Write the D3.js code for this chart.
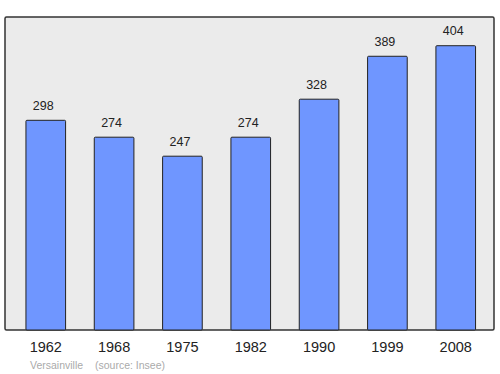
<!DOCTYPE html>
<html>
<head>
<meta charset="utf-8">
<script src="https://cdn.jsdelivr.net/npm/d3@7"></script>
<style>
  body { margin: 0; background: #fff; }
  svg { display: block; font-family: "Liberation Sans", Arial, sans-serif; }
</style>
</head>
<body>
<svg id="chart" width="500" height="374"></svg>
<script>
// Data
const years = ["1962", "1968", "1975", "1982", "1990", "1999", "2008"];
const population = [298, 274, 247, 274, 328, 389, 404];
const townName = "Versainville";
const sourceText = "(source: Insee)";

const svg = d3.select("#chart");

// frame of the plot area
const frame = { left: 5, top: 17, right: 494, bottom: 330 };

// Scales
const xScale = d3.scaleBand()
    .domain(years)
    .range([11.6, 489.9])
    .paddingInner(0.42)
    .paddingOuter(0.21);

const yScale = d3.scaleLinear()
    .domain([0, 444.8])
    .range([frame.bottom, frame.top]);

// background box
svg.append("rect")
    .attr("x", frame.left)
    .attr("y", frame.top)
    .attr("width", frame.right - frame.left)
    .attr("height", frame.bottom - frame.top)
    .attr("rx", 1.5)
    .attr("fill", "#ebebeb")
    .attr("stroke", "#333")
    .attr("stroke-width", 1.5);

// bars
svg.append("g")
    .selectAll("rect")
    .data(population)
    .enter()
    .append("rect")
    .attr("x", (d, i) => xScale(years[i]))
    .attr("y", d => yScale(d))
    .attr("width", xScale.bandwidth())
    .attr("height", d => yScale(0) - yScale(d))
    .attr("rx", 1)
    .attr("fill", "#6f96ff")
    .attr("stroke", "#222")
    .attr("stroke-width", 1);

// value labels (sit a bit left of the bar centre, like the original)
svg.append("g")
    .selectAll("text")
    .data(population)
    .enter()
    .append("text")
    .attr("x", (d, i) => xScale(years[i]) + xScale.bandwidth() / 2 - 2.5)
    .attr("y", d => yScale(d) - 10.5)
    .attr("text-anchor", "middle")
    .attr("font-size", 12.5)
    .attr("fill", "#222")
    .text(d => d);

// x axis (years)
const xAxis = d3.axisBottom(xScale).tickSize(0).tickPadding(12);
const gX = svg.append("g")
    .attr("transform", `translate(0, ${frame.bottom})`)
    .call(xAxis);
gX.select(".domain").remove();
gX.selectAll("text")
    .attr("font-size", 14.5)
    .attr("fill", "#222")
    .style("font-family", "'Liberation Sans', Arial, sans-serif");

// footer
svg.append("text")
    .attr("x", 30)
    .attr("y", 368.5)
    .attr("font-size", 10.5)
    .attr("fill", "#aaa")
    .text(townName);
svg.append("text")
    .attr("x", 95)
    .attr("y", 368.5)
    .attr("font-size", 10.5)
    .attr("fill", "#aaa")
    .text(sourceText);
</script>
</body>
</html>
